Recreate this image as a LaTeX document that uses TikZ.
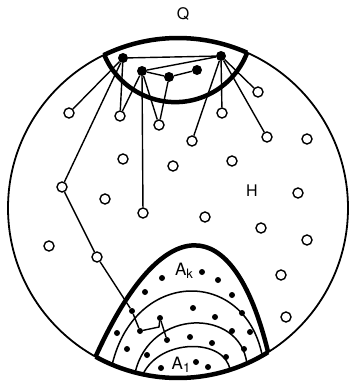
\documentclass[tikz,border=0pt]{standalone}
\usepackage{fontspec}
\setmainfont{TeX Gyre Heros}
\tikzset{
  hole/.style  = {circle, draw, fill=white, line width=1.4pt, inner sep=0pt, minimum size=10pt},
  qdot/.style  = {circle, fill=black, inner sep=0pt, minimum size=10pt},
  adot/.style  = {circle, fill=black, inner sep=0pt, minimum size=6pt},
  link/.style  = {line width=1.4pt},
  rim/.style   = {line width=4.5pt},
  layer/.style = {line width=1.5pt},
  lbl/.style   = {inner sep=0pt, font=\fontsize{16}{16}\selectfont},
}
\newcommand{\lowsub}[1]{\raisebox{-3pt}{\fontsize{13}{13}\selectfont #1}}

\begin{document}
\begin{tikzpicture}[x=1pt, y=-1pt]
  \useasboundingbox (0,0) rectangle (349,384);

  % outer set H
  \coordinate (o) at (178,208);
  \draw[line width=1.8pt] (o) circle[radius=170];
  \path (o) ++(-116:170) coordinate (qL);
  \path (o) ++(-66:170)  coordinate (qR);
  \path (o) ++(119:170)  coordinate (aL);
  \path (o) ++(58:170)   coordinate (aR);
  \path (o) ++(112.8:170) coordinate (l1L);
  \path (o) ++(60.3:170)  coordinate (l1R);
  \path (o) ++(104.6:170) coordinate (l2L);
  \path (o) ++(66.1:170)  coordinate (l2R);
  \path (o) ++(101.9:170) coordinate (l3L);
  \path (o) ++(72.2:170)  coordinate (l3R);

  % cap Q
  \draw[rim] (qL) arc[start angle=-116, end angle=-66, radius=170];
  \draw[rim] (qR) arc[start angle=21, end angle=157, radius=77];

  % nested sets A_1 ... A_k
  \draw[rim] (aL) arc[start angle=119, end angle=58, radius=170];
  \draw[rim] (aL) .. controls (162,210) and (233,208) .. (aR);
  \draw[layer] (l1L) .. controls (135,268) and (245,268) .. (l1R);
  \draw[layer] (l2L) .. controls (150,308) and (240,308) .. (l2R);
  \draw[layer] (l3L) .. controls (160,338) and (225,338) .. (l3R);

  % labels
  \node[lbl] (q)  at (183,14)  {Q};
  \node[lbl] (h)  at (252,191) {H};
  \node[lbl, font=\fontsize{17}{17}\selectfont] (ak) at (184,271) {A\lowsub{k}};
  \node[lbl, font=\fontsize{17}{17}\selectfont] (a1) at (181,365) {A\lowsub{1}};

  % points in Q
  \node[qdot] (q1) at (123,58) {};
  \node[qdot] (q2) at (142,71) {};
  \node[qdot] (q3) at (169,77) {};
  \node[qdot] (q4) at (197,70) {};
  \node[qdot] (q5) at (221,56) {};

  % points in H
  \node[hole] (h1)  at (69,113)  {};
  \node[hole] (h2)  at (120,116) {};
  \node[hole] (h3)  at (159,125) {};
  \node[hole] (h4)  at (192,141) {};
  \node[hole] (h5)  at (222,113) {};
  \node[hole] (h6)  at (258,92)  {};
  \node[hole] (h7)  at (267,137) {};
  \node[hole] (h8)  at (307,139) {};
  \node[hole] (h9)  at (123,159) {};
  \node[hole] (h10) at (173,166) {};
  \node[hole] (h11) at (232,161) {};
  \node[hole] (h12) at (62,187)  {};
  \node[hole] (h13) at (105,199) {};
  \node[hole] (h14) at (143,213) {};
  \node[hole] (h15) at (205,217) {};
  \node[hole] (h16) at (298,193) {};
  \node[hole] (h17) at (261,228) {};
  \node[hole] (h18) at (307,240) {};
  \node[hole] (h19) at (49,246)  {};
  \node[hole] (h20) at (97,257)  {};
  \node[hole] (h21) at (281,275) {};
  \node[hole] (h22) at (286,317) {};

  % points in A
  \node[adot] (d1)  at (162,278) {};
  \node[adot] (d2)  at (202,272) {};
  \node[adot] (d3)  at (218,280) {};
  \node[adot] (d4)  at (145,292) {};
  \node[adot] (d5)  at (232,295) {};
  \node[adot] (d6)  at (193,308) {};
  \node[adot] (d7)  at (132,311) {};
  \node[adot] (d8)  at (215,317) {};
  \node[adot] (d9)  at (242,313) {};
  \node[adot] (d10) at (160,318) {};
  \node[adot] (d11) at (117,333) {};
  \node[adot] (d12) at (140,331) {};
  \node[adot] (d13) at (167,340) {};
  \node[adot] (d14) at (190,337) {};
  \node[adot] (d15) at (212,343) {};
  \node[adot] (d16) at (232,331) {};
  \node[adot] (d17) at (250,332) {};
  \node[adot] (d18) at (127,349) {};
  \node[adot] (d19) at (147,355) {};
  \node[adot] (d20) at (196,362) {};
  \node[adot] (d21) at (161,368) {};
  \node[adot] (d22) at (208,367) {};
  \node[adot] (d23) at (226,357) {};
  \node[adot] (d24) at (244,349) {};

  % links inside Q
  \draw[link] (q1) -- (q5);
  \draw[link] (q2) -- (q5);
  \draw[link] (q2) -- (q3);
  \draw[link] (q3) -- (q4);

  % links from Q to H
  \draw[link] (q1) -- (h1);
  \draw[link] (q1) -- (h2);
  \draw[link] (q1) -- (h12);
  \draw[link] (q2) -- (h2);
  \draw[link] (q2) -- (h3);
  \draw[link] (q2) -- (h14);
  \draw[link] (q3) -- (h3);
  \draw[link] (q5) -- (h4);
  \draw[link] (q5) -- (h5);
  \draw[link] (q5) -- (h6);
  \draw[link] (q5) -- (h7);

  % path down into A_1
  \coordinate (kink) at (159,327);
  \draw[link] (h12) -- (h20);
  \draw[link] (h20) -- (d7);
  \draw[link] (d7) -- (d12);
  \draw[link] (d12) -- (kink) -- (d10);
  \draw[link] (d10) -- (d13);
\end{tikzpicture}
\end{document}
